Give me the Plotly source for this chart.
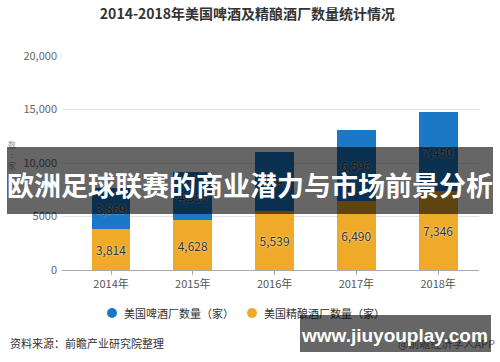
import plotly.graph_objects as go

years = ["2014年", "2015年", "2016年", "2017年", "2018年"]
craft = [3814, 4628, 5539, 6490, 7346]
beer = [3869, 4530, 5490, 6596, 7450]
ytick_vals = [0, 5000, 10000, 15000, 20000]
ytick_text = ["0", "5000", "10,000", "15,000", "20,000"]

BLUE = "#1a78c6"
YELLOW = "#f0aa2a"
FONT = "Noto Sans CJK SC"

PL, PR, PT, PB = 62, 479, 56, 270


def xp(px):
    return (px - PL) / (PR - PL)


def yp(py):
    return (PB - py) / (PB - PT)


fig = go.Figure()
common = dict(
    texttemplate="%{y:,}",
    textposition="inside",
    insidetextanchor="middle",
    textangle=0,
    textfont=dict(family=FONT, size=12, color="#333", shadow="0px 0px 2px white"),
    width=0.475,
    showlegend=False,
    hoverinfo="skip",
)
fig.add_trace(go.Bar(x=years, y=craft, marker=dict(color=YELLOW, line=dict(width=0)), name="美国精酿酒厂数量（家）", **common))
fig.add_trace(go.Bar(x=years, y=beer, marker=dict(color=BLUE, line=dict(width=0)), name="美国啤酒厂数量（家）", **common))

fig.update_layout(
    width=500,
    height=362,
    barmode="stack",
    plot_bgcolor="white",
    paper_bgcolor="white",
    margin=dict(l=PL, r=500 - PR, t=PT, b=362 - PB),
    font=dict(family=FONT, color="#555"),
    title=dict(
        text="<b>2014-2018年美国啤酒及精酿酒厂数量统计情况</b>",
        x=0.495, xref="container", xanchor="center",
        y=1 - 14 / 362, yref="container", yanchor="middle",
        font=dict(family=FONT, size=14, color="#333"),
    ),
    xaxis=dict(
        range=[-0.6, 4.5],
        showgrid=False,
        showline=True, linecolor="#aaa", linewidth=1,
        ticks="outside", ticklen=4, tickcolor="#aaa",
        tickfont=dict(size=11, color="#555"),
        fixedrange=True,
    ),
    yaxis=dict(
        range=[0, 20000],
        tickvals=ytick_vals, ticktext=ytick_text,
        showgrid=True, gridcolor="#e3e3e3", gridwidth=1,
        zeroline=False,
        showline=False,
        ticks="", ticklabelstandoff=4,
        tickfont=dict(size=11, color="#666"),
    ),
)

shapes = []
for cx, col in [(112, BLUE), (252, YELLOW)]:
    shapes.append(dict(
        type="circle", xref="paper", yref="paper",
        xsizemode="pixel", ysizemode="pixel",
        xanchor=xp(cx), yanchor=yp(313),
        x0=-5, x1=5, y0=-5, y1=5,
        fillcolor=col, line=dict(width=0),
    ))
fig.update_layout(shapes=shapes)

ann = []
# y-axis unit (faint)
ann.append(dict(text="数<br>:<br>家", x=xp(12), y=yp(155), xref="paper", yref="paper",
                showarrow=False, font=dict(size=8, color="#999"), xanchor="center", yanchor="middle"))
# legend texts
ann.append(dict(text="美国啤酒厂数量（家）", x=xp(122), y=yp(313), xref="paper", yref="paper",
                showarrow=False, font=dict(size=11, color="#333"), xanchor="left", yanchor="middle"))
ann.append(dict(text="美国精酿酒厂数量（家）", x=xp(262), y=yp(313), xref="paper", yref="paper",
                showarrow=False, font=dict(size=11, color="#333"), xanchor="left", yanchor="middle"))
# source
ann.append(dict(text="资料来源：前瞻产业研究院整理", x=xp(8), y=yp(343), xref="paper", yref="paper",
                showarrow=False, font=dict(size=11, color="#333"), xanchor="left", yanchor="middle"))
ann.append(dict(text="@前瞻经济学人APP", x=xp(497), y=yp(343), xref="paper", yref="paper",
                showarrow=False, font=dict(size=11, color="#777"), xanchor="right", yanchor="middle"))
# banner box + text
ann.append(dict(text=" ", x=xp(250), y=yp(180.5), xref="paper", yref="paper",
                showarrow=False, width=486, height=67, bgcolor="rgba(0,0,0,0.6)",
                borderpad=0, borderwidth=0, xanchor="center", yanchor="middle"))
ann.append(dict(text="<b>欧洲足球联赛的商业潜力与市场前景分析</b>", x=xp(250), y=yp(184.5),
                xref="paper", yref="paper", showarrow=False,
                font=dict(family=FONT, size=27, color="white"), xanchor="center", yanchor="middle"))
# watermark box + text
ann.append(dict(text=" ", x=xp(395.5), y=yp(333.5), xref="paper", yref="paper",
                showarrow=False, width=191, height=37, bgcolor="rgba(0,0,0,0.6)",
                borderpad=0, borderwidth=0, xanchor="center", yanchor="middle"))
ann.append(dict(text="<b>www.jiuyouplay.com</b>", x=xp(394.5), y=yp(335), xref="paper", yref="paper",
                showarrow=False, font=dict(family="Liberation Sans", size=19, color="white"),
                xanchor="center", yanchor="middle"))
fig.update_layout(annotations=ann)

fig.write_html(
    "out.html",
    config={"displayModeBar": False},
    post_script="document.body.style.margin='0';document.body.style.overflow='hidden';",
)
